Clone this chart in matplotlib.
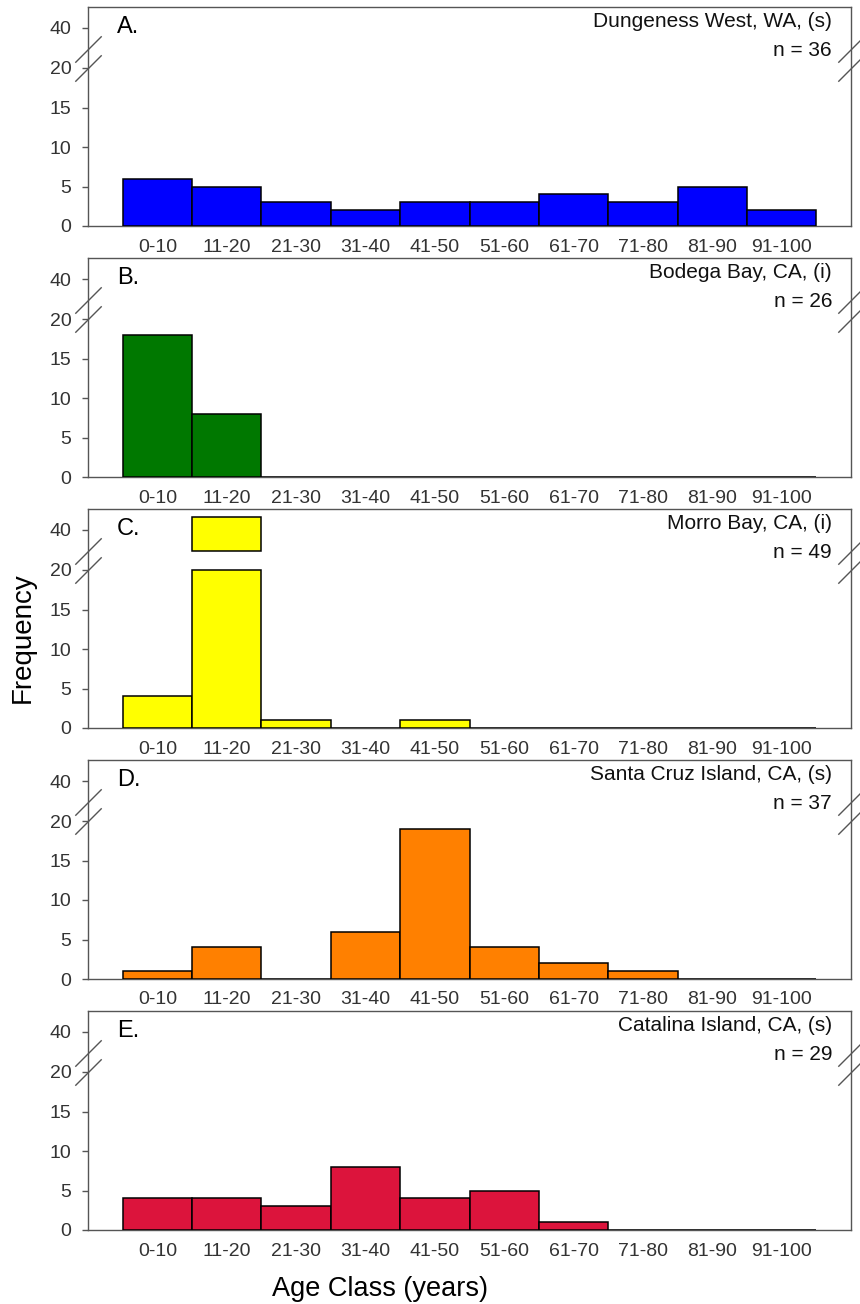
import numpy as np
import matplotlib
matplotlib.use("Agg")
import matplotlib.pyplot as plt
from matplotlib.transforms import blended_transform_factory

plt.rcParams['font.family'] = ['Liberation Sans', 'DejaVu Sans']

age_classes = ["0-10", "11-20", "21-30", "31-40", "41-50", "51-60",
               "61-70", "71-80", "81-90", "91-100"]

panel_letters = ["A.", "B.", "C.", "D.", "E."]
site_names = ["Dungeness West, WA, (s)", "Bodega Bay, CA, (i)", "Morro Bay, CA, (i)",
              "Santa Cruz Island, CA, (s)", "Catalina Island, CA, (s)"]
sample_sizes = [36, 26, 49, 37, 29]

freq_dungeness = [6, 5, 3, 2, 3, 3, 4, 3, 5, 2]
freq_bodega = [18, 8, 0, 0, 0, 0, 0, 0, 0, 0]
freq_morro = [4, 43, 1, 0, 1, 0, 0, 0, 0, 0]
freq_santacruz = [1, 4, 0, 6, 19, 4, 2, 1, 0, 0]
freq_catalina = [4, 4, 3, 8, 4, 5, 1, 0, 0, 0]

series = [freq_dungeness, freq_bodega, freq_morro, freq_santacruz, freq_catalina]
colors = ["#0000FF", "#007800", "#FFFF00", "#FF8000", "#DC143C"]

# broken axis: lower segment 0-20, upper segment 35-45
LOW_TOP = 20.0
HIGH_BOT = 35.0
GAP = 19 / 7.9
K = 4.2 / 7.9


def fwd(y):
    y = np.asarray(y, dtype=float)
    mid = LOW_TOP + (y - LOW_TOP) * GAP / (HIGH_BOT - LOW_TOP)
    up = LOW_TOP + GAP + (y - HIGH_BOT) * K
    return np.where(y <= LOW_TOP, y, np.where(y < HIGH_BOT, mid, up))


def inv(z):
    z = np.asarray(z, dtype=float)
    mid = LOW_TOP + (z - LOW_TOP) * (HIGH_BOT - LOW_TOP) / GAP
    up = HIGH_BOT + (z - LOW_TOP - GAP) / K
    return np.where(z <= LOW_TOP, z, np.where(z < LOW_TOP + GAP, mid, up))


W, H = 860, 1304
fig = plt.figure(figsize=(W / 100, H / 100), dpi=100)

left_px, right_px = 88, 851
aw = right_px - left_px
top0, step, height = 7, 251, 219
frame_col = "#555555"
tick_col = "#333333"

x = np.arange(len(age_classes))

for i in range(5):
    top = top0 + step * i
    ax = fig.add_axes([left_px / W, 1 - (top + height) / H, aw / W, height / H])
    ax.set_yscale('function', functions=(fwd, inv))
    ax.set_ylim(0, 45)
    ax.set_xlim(-1, 10)

    vals = np.array(series[i], dtype=float)
    low = np.minimum(vals, LOW_TOP)
    ax.bar(x, low, width=1.0, color=colors[i], edgecolor="black", linewidth=1.1,
           zorder=3)
    hi_mask = vals > HIGH_BOT
    if hi_mask.any():
        ax.bar(x[hi_mask], vals[hi_mask] - HIGH_BOT, bottom=HIGH_BOT, width=1.0,
               color=colors[i], edgecolor="black", linewidth=1.1, zorder=3)

    for s in ax.spines.values():
        s.set_color(frame_col)
        s.set_linewidth(1.0)

    ax.set_yticks([0, 5, 10, 15, 20, 40])
    ax.set_yticklabels(["0", "5", "10", "15", "20", "40"])
    ax.set_xticks(x)
    ax.set_xticklabels(age_classes)
    ax.tick_params(axis='y', direction='out', length=4, width=1, color=frame_col,
                   labelsize=14, labelcolor=tick_col, pad=8)
    ax.tick_params(axis='x', length=0, labelsize=14, labelcolor=tick_col, pad=9)

    ax.text((117 - left_px) / aw, 1 - 9 / height, panel_letters[i],
            transform=ax.transAxes, ha='left', va='top', fontsize=17, color='black')
    ax.text(1 - 19 / aw, 1 - 5 / height, site_names[i],
            transform=ax.transAxes, ha='right', va='top', fontsize=15,
            color='#111111')
    ax.text(1 - 19 / aw, 1 - 34 / height, f"n = {sample_sizes[i]}",
            transform=ax.transAxes, ha='right', va='top', fontsize=15,
            color='#111111')

    # break marks on both sides
    tr = blended_transform_factory(ax.transAxes, ax.transData)
    for xa in (0.0, 1.0):
        ax.plot([xa, xa], [LOW_TOP, HIGH_BOT], transform=tr, linestyle='none',
                marker=[(-1, -1), (1, 1)], markersize=19, markeredgewidth=1.0,
                markeredgecolor='#555555', clip_on=False, zorder=5)

fig.text(23 / W, 1 - 638 / H, "Frequency", rotation=90, ha='center', va='center',
         fontsize=20, color='black')
fig.text(380 / W, 1 - 1289 / H, "Age Class (years)", ha='center', va='center',
         fontsize=19.5, color='black')

fig.savefig("out.png", dpi=100)
